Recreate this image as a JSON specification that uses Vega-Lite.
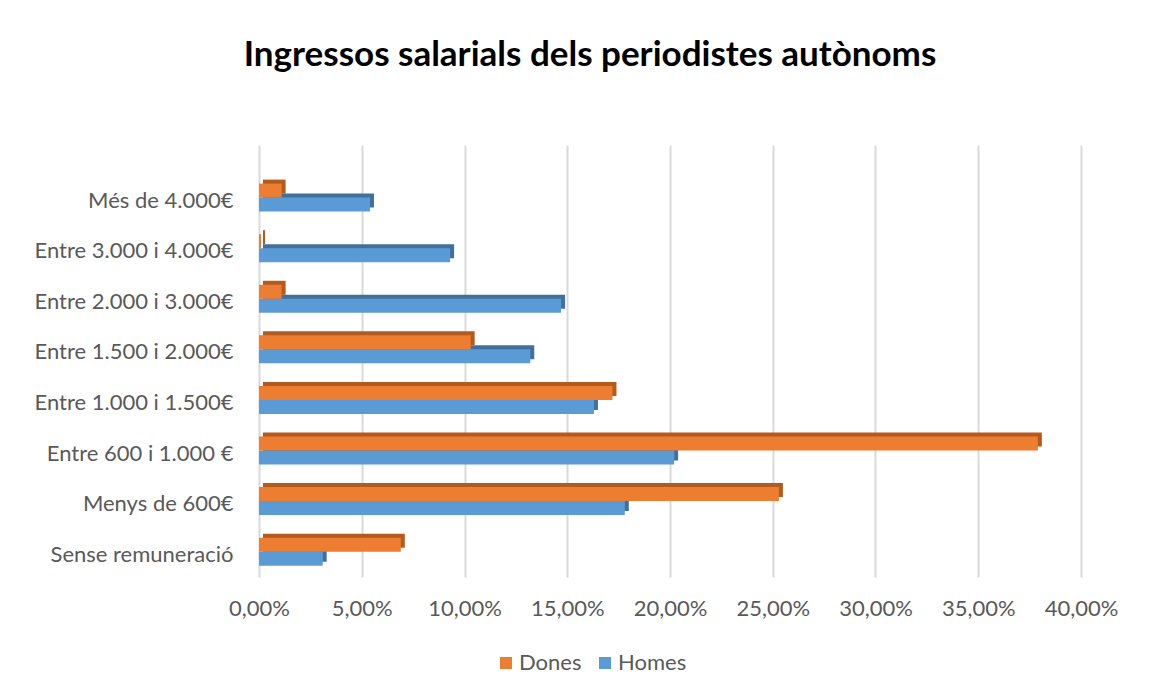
{
  "$schema": "https://vega.github.io/schema/vega-lite/v6.json",
  "width": 822,
  "height": 432,
  "autosize": "none",
  "padding": {"left": 259, "top": 145, "right": 80, "bottom": 121},
  "background": "white",
  "title": {
    "text": "Ingressos salarials dels periodistes autònoms",
    "font": "Lato",
    "fontSize": 35,
    "fontWeight": "bold",
    "color": "#000000",
    "anchor": "middle",
    "frame": "group",
    "baseline": "alphabetic",
    "dx": -80,
    "offset": 44
  },
  "config": {
    "locale": {"number": {"decimal": ",", "thousands": ".", "grouping": [3], "currency": ["", " €"]}},
    "view": {"stroke": null},
    "font": "Lato"
  },
  "data": {
    "values": [
      {"categoria": "Més de 4.000€", "sexe": "Dones", "valor": 0.011},
      {"categoria": "Més de 4.000€", "sexe": "Homes", "valor": 0.054},
      {"categoria": "Entre 3.000 i 4.000€", "sexe": "Dones", "valor": 0.001},
      {"categoria": "Entre 3.000 i 4.000€", "sexe": "Homes", "valor": 0.093},
      {"categoria": "Entre 2.000 i 3.000€", "sexe": "Dones", "valor": 0.011},
      {"categoria": "Entre 2.000 i 3.000€", "sexe": "Homes", "valor": 0.147},
      {"categoria": "Entre 1.500 i 2.000€", "sexe": "Dones", "valor": 0.103},
      {"categoria": "Entre 1.500 i 2.000€", "sexe": "Homes", "valor": 0.132},
      {"categoria": "Entre 1.000 i 1.500€", "sexe": "Dones", "valor": 0.172},
      {"categoria": "Entre 1.000 i 1.500€", "sexe": "Homes", "valor": 0.163},
      {"categoria": "Entre 600 i 1.000 €", "sexe": "Dones", "valor": 0.379},
      {"categoria": "Entre 600 i 1.000 €", "sexe": "Homes", "valor": 0.202},
      {"categoria": "Menys de 600€", "sexe": "Dones", "valor": 0.253},
      {"categoria": "Menys de 600€", "sexe": "Homes", "valor": 0.178},
      {"categoria": "Sense remuneració", "sexe": "Dones", "valor": 0.069},
      {"categoria": "Sense remuneració", "sexe": "Homes", "valor": 0.031}
    ]
  },
  "encoding": {
    "y": {
      "field": "categoria",
      "type": "nominal",
      "sort": ["Més de 4.000€", "Entre 3.000 i 4.000€", "Entre 2.000 i 3.000€", "Entre 1.500 i 2.000€", "Entre 1.000 i 1.500€", "Entre 600 i 1.000 €", "Menys de 600€", "Sense remuneració"],
      "scale": {"type": "band", "paddingInner": 0, "paddingOuter": 0.27, "align": 1},
      "axis": {"title": null, "domain": false, "ticks": false, "grid": false, "labelFontSize": 22, "labelColor": "#595959", "labelPadding": 26, "labelLimit": 400, "labelFont": "Lato", "labelBaseline": "middle", "labelOffset": 3}
    },
    "x": {
      "field": "valor",
      "type": "quantitative",
      "scale": {"domain": [0, 0.4], "nice": false},
      "axis": {"title": null, "format": ".2%", "values": [0, 0.05, 0.1, 0.15, 0.2, 0.25, 0.3, 0.35, 0.4], "labelFlush": false, "domain": false, "ticks": false, "grid": true, "gridColor": "#D9D9D9", "gridWidth": 2, "labelFontSize": 22, "labelColor": "#595959", "labelPadding": 21, "labelFont": "Lato"}
    }
  },
  "layer": [
    {
      "transform": [{"filter": "datum.sexe === 'Homes'"}],
      "mark": {"type": "bar", "height": 14, "xOffset": 4, "x2Offset": 4, "yOffset": 3, "color": "#41709C"}
    },
    {
      "transform": [{"filter": "datum.sexe === 'Dones'"}],
      "mark": {"type": "bar", "height": 14, "xOffset": 4, "x2Offset": 4, "yOffset": -11, "color": "#B35A1F"}
    },
    {
      "transform": [{"filter": "datum.sexe === 'Homes'"}],
      "mark": {"type": "bar", "height": 14, "yOffset": 7},
      "encoding": {
        "color": {
          "field": "sexe",
          "type": "nominal",
          "scale": {"domain": ["Dones", "Homes"], "range": ["#ED7D31", "#5B9BD5"]},
          "legend": {"title": null, "orient": "none", "direction": "horizontal", "legendX": 236, "legendY": 507, "symbolType": "square", "symbolSize": 144, "labelFontSize": 22, "labelColor": "#595959", "labelFont": "Lato", "labelOffset": 2, "columnPadding": 12, "symbolStrokeWidth": 0}
        }
      }
    },
    {
      "transform": [{"filter": "datum.sexe === 'Dones'"}],
      "mark": {"type": "bar", "height": 14, "yOffset": -7},
      "encoding": {
        "color": {"field": "sexe", "type": "nominal"}
      }
    }
  ]
}
